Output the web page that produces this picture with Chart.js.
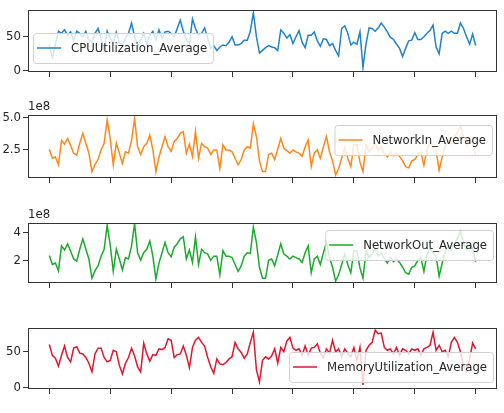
<!DOCTYPE html>
<html lang="en">
<head>
  <meta charset="UTF-8" />
  <meta name="viewport" content="width=device-width, initial-scale=1.0" />
  <title>Instance metrics</title>
  <script src="https://cdn.jsdelivr.net/npm/chart.js"></script>
  <style>
    body { margin: 0; background: #fff; width: 504px; height: 413px; overflow: hidden; }
    canvas { position: absolute; left: 0; }
  </style>
</head>
<body>

  <canvas id="cpu"></canvas>
  <canvas id="netIn"></canvas>
  <canvas id="netOut"></canvas>
  <canvas id="memory"></canvas>

  <script>
    // sample positions shown as x ticks (labels hidden, shared x axis)
    const xTicks = [0, 20, 40, 60, 80, 100, 120, 140];

    const cpuUtilization = [
      38, 20, 40, 58, 55, 60, 52, 57, 45, 58,
      55, 50, 58, 45, 42, 55, 62, 48, 30, 58,
      48, 40, 57, 42, 38, 48, 55, 70, 50, 36,
      45, 55, 40, 52, 58, 45, 60, 48, 57, 58,
      55, 50, 62, 74, 58, 45, 40, 76, 62, 52,
      55, 63, 48, 33, 37, 30, 35, 38, 37, 42,
      50, 38, 38, 40, 45, 45, 58, 85, 50, 26,
      30, 34, 37, 35, 34, 30, 60, 55, 48, 53,
      40, 50, 59, 42, 34, 52, 52, 57, 44, 36,
      47, 46, 37, 40, 30, 22, 62, 66, 55, 38,
      42, 39, 57, 5, 40, 63, 62, 58, 63, 70,
      64, 57, 49, 46, 39, 33, 21, 33, 44, 45,
      56, 46, 46, 50, 55, 59, 67, 35, 25, 55,
      58, 55, 58, 55, 55, 70, 62, 50, 39, 54, 37
    ];

    // network values in units of 1e8
    const networkIn = [
      2.5, 1.8, 1.9, 1.3, 3.2, 2.9, 3.35, 2.8, 2.2, 2.05,
      2.97, 3.75, 2.95, 2.2, 0.76, 1.3, 1.7, 2.45, 2.97, 4.8,
      3.3, 1.28, 2.97, 2.2, 1.4, 2.3, 2.2, 3.2, 4.9, 2.7,
      2.1, 2.7, 2.97, 3.6, 2.45, 0.76, 1.9, 2.7, 3.5, 2.7,
      2.35, 3.1, 3.35, 3.75, 3.88, 2.2, 2.9, 1.93, 3.88, 1.8,
      2.97, 2.7, 2.6, 2.1, 2.45, 2.45, 1.0, 2.85, 2.45, 2.45,
      2.3, 1.8, 1.28, 1.7, 2.45, 2.7, 2.6, 4.5, 3.5, 1.6,
      0.76, 0.76, 2.1, 2.2, 1.7, 2.5, 3.35, 2.6, 2.4, 2.2,
      2.45, 2.3, 2.2, 1.95, 2.7, 3.23, 1.15, 2.2, 2.45, 1.8,
      2.7, 3.5, 2.3, 1.6, 0.5, 1.0, 1.8, 2.6, 1.8, 1.15,
      2.85, 2.85, 1.5, 0.76, 2.85, 2.3, 2.6, 3.0, 2.4, 2.7,
      2.2, 1.9, 2.3, 2.0, 2.2, 1.95, 1.6, 1.15, 1.05, 1.6,
      1.7, 2.1, 2.3, 1.25, 2.5, 3.0, 2.7, 2.4, 0.87, 1.9,
      2.8, 3.2, 2.9, 3.4, 3.8, 4.3, 3.5, 2.9, 3.3, 3.0, 2.0
    ];

    const networkOut = [
      2.35, 1.7, 1.8, 1.25, 3.05, 2.75, 3.2, 2.65, 2.1, 1.95,
      2.8, 3.55, 2.8, 2.1, 0.7, 1.25, 1.6, 2.3, 2.8, 4.55,
      3.1, 1.2, 2.8, 2.1, 1.3, 2.2, 2.1, 3.05, 4.65, 2.55,
      2.0, 2.55, 2.8, 3.4, 2.3, 0.65, 1.8, 2.55, 3.3, 2.55,
      2.25, 2.95, 3.2, 3.55, 3.7, 2.1, 2.75, 1.85, 3.7, 1.7,
      2.8, 2.55, 2.45, 2.0, 2.3, 2.3, 0.95, 2.7, 2.3, 2.3,
      2.2, 1.7, 1.2, 1.6, 2.3, 2.55, 2.5, 4.4, 3.3, 1.5,
      0.7, 0.7, 2.0, 2.1, 1.6, 2.4, 3.2, 2.45, 2.3, 2.1,
      2.3, 2.2, 2.1, 1.85, 2.55, 3.05, 1.1, 2.1, 2.3, 1.7,
      2.55, 3.3, 2.2, 1.5, 0.5, 0.95, 1.7, 2.45, 1.7, 1.1,
      2.7, 2.7, 1.45, 0.7, 2.7, 2.2, 2.45, 2.85, 2.3, 2.55,
      2.1, 1.8, 2.2, 1.9, 2.1, 1.85, 1.5, 1.1, 1.0, 1.5,
      1.6, 2.0, 2.2, 1.2, 2.4, 2.85, 2.55, 2.3, 0.85, 1.8,
      2.65, 3.05, 2.75, 3.2, 3.6, 4.1, 3.3, 2.75, 3.1, 2.85, 1.9
    ];

    const memoryUtilization = [
      60, 45, 41, 30, 45, 58, 42, 36, 55, 57,
      48, 47, 42, 34, 22, 47, 55, 55, 42, 36,
      38, 52, 50, 31, 19, 34, 42, 55, 44, 29,
      22, 62, 47, 37, 46, 45, 54, 53, 56, 68,
      66, 42, 46, 47, 58, 45, 28, 56, 66, 70,
      63, 58, 42, 29, 20, 40, 33, 32, 35, 40,
      43, 63, 54, 49, 41, 47, 63, 77, 25, 8,
      38, 43, 40, 44, 54, 34, 56, 50, 65, 70,
      55, 52, 54, 45, 58, 45, 55, 56, 61, 48,
      42, 54, 48, 66, 50, 54, 43, 54, 48, 43,
      56, 38, 56, 4, 52, 59, 63, 80, 75, 76,
      56, 52, 54, 47, 56, 45, 54, 52, 47, 54,
      52, 54, 45, 54, 56, 59, 77, 52, 59, 50,
      52, 43, 63, 70, 63, 50, 31, 22, 40, 62, 54
    ];

    const cpuTicks = [0, 50];
    const networkInTicks = [2.5, 5.0];
    const networkOutTicks = [2, 4];
    const memoryTicks = [0, 50];

    const FONT = '"DejaVu Sans Condensed", "DejaVu Sans", sans-serif';
    const PAD_TOP = 14;
    const X_AXIS_H = 12;

    const panels = [
      { id: 'cpu', label: 'CPUUtilization_Average', values: cpuUtilization, ticks: cpuTicks,
        color: '#1f83c8', top: 10, bottom: 72, min: -1.5, max: 89, decimals: 0,
        legend: { left: 33, top: 33 } },
      { id: 'netIn', label: 'NetworkIn_Average', values: networkIn, ticks: networkInTicks,
        color: '#ff8718', top: 115, bottom: 178, min: 0.26, max: 5.18, decimals: 1, offset: '1e8',
        legend: { right: 492, top: 125 } },
      { id: 'netOut', label: 'NetworkOut_Average', values: networkOut, ticks: networkOutTicks,
        color: '#1aab2c', top: 223, bottom: 283, min: 0.36, max: 4.7, decimals: 0, offset: '1e8',
        legend: { right: 493, top: 230 } },
      { id: 'memory', label: 'MemoryUtilization_Average', values: memoryUtilization, ticks: memoryTicks,
        color: '#e0162e', top: 328, bottom: 389, min: -1.8, max: 83, decimals: 0,
        legend: { right: 493, top: 352 } }
    ];

    // axes frame, offset text and in-plot legend (matplotlib look)
    const decorPlugin = {
      id: 'decor',
      afterDatasetsDraw(chart) {
        const { ctx, chartArea: a } = chart;
        ctx.save();
        ctx.strokeStyle = '#333';
        ctx.lineWidth = 1;
        ctx.strokeRect(Math.round(a.left) + 0.5, Math.round(a.top) + 0.5,
          Math.round(a.right - a.left) - 1, Math.round(a.bottom - a.top) - 1);
        ctx.restore();
      },
      afterDraw(chart) {
        const p = chart.options.plugins.decor.panel;
        const ctx = chart.ctx;
        const shift = p.top - PAD_TOP;
        ctx.save();
        ctx.font = '13px ' + FONT;
        ctx.fillStyle = '#262626';

        if (p.offset) {
          ctx.textBaseline = 'bottom';
          ctx.textAlign = 'left';
          ctx.fillText(p.offset, chart.chartArea.left, chart.chartArea.top - 2);
        }

        const lg = p.legend;
        const textW = ctx.measureText(p.label).width;
        const padL = 4, lineLen = 24, gap = 10, padR = 6, h = 30;
        const boxW = padL + lineLen + gap + textW + padR;
        const x0 = lg.left !== undefined ? lg.left : lg.right - boxW;
        const y0 = lg.top - shift;
        const cy = y0 + h / 2;

        ctx.beginPath();
        ctx.roundRect(x0 + 0.5, y0 + 0.5, boxW, h, 3);
        ctx.fillStyle = 'rgba(255,255,255,0.8)';
        ctx.fill();
        ctx.strokeStyle = '#d0d0d0';
        ctx.lineWidth = 1;
        ctx.stroke();

        ctx.beginPath();
        ctx.moveTo(x0 + padL, cy);
        ctx.lineTo(x0 + padL + lineLen, cy);
        ctx.strokeStyle = p.color;
        ctx.lineWidth = 1.5;
        ctx.stroke();

        ctx.fillStyle = '#262626';
        ctx.textBaseline = 'middle';
        ctx.textAlign = 'left';
        ctx.fillText(p.label, x0 + padL + lineLen + gap, cy + 1);
        ctx.restore();
      }
    };

    panels.forEach(p => {
      const canvas = document.getElementById(p.id);
      const height = PAD_TOP + (p.bottom - p.top) + X_AXIS_H;
      canvas.width = 504;
      canvas.height = height;
      canvas.style.top = (p.top - PAD_TOP) + 'px';

      new Chart(canvas, {
        type: 'line',
        data: {
          datasets: [{
            label: p.label,
            data: p.values.map((v, i) => ({ x: i, y: v })),
            borderColor: p.color,
            borderWidth: 1.5,
            pointRadius: 0,
            tension: 0,
            fill: false
          }]
        },
        options: {
          responsive: false,
          animation: false,
          devicePixelRatio: 1,
          layout: { padding: { top: PAD_TOP, right: 7, left: 0, bottom: 0 } },
          plugins: {
            legend: { display: false },
            tooltip: { enabled: false },
            decor: { panel: p }
          },
          scales: {
            x: {
              type: 'linear',
              min: -7,
              max: 147,
              afterBuildTicks: s => { s.ticks = xTicks.map(v => ({ value: v })); },
              afterFit: s => { s.height = X_AXIS_H; },
              ticks: { display: false },
              grid: { drawOnChartArea: false, tickLength: 5, color: '#333', lineWidth: 1 },
              border: { display: false }
            },
            y: {
              min: p.min,
              max: p.max,
              afterBuildTicks: s => { s.ticks = p.ticks.map(v => ({ value: v })); },
              afterFit: s => { s.width = 28; },
              ticks: {
                color: '#262626',
                font: { family: FONT, size: 13 },
                padding: 2,
                callback: v => v.toFixed(p.decimals)
              },
              grid: { drawOnChartArea: false, tickLength: 5, color: '#333', lineWidth: 1 },
              border: { display: false }
            }
          }
        },
        plugins: [decorPlugin]
      });
    });
  </script>

</body>
</html>
